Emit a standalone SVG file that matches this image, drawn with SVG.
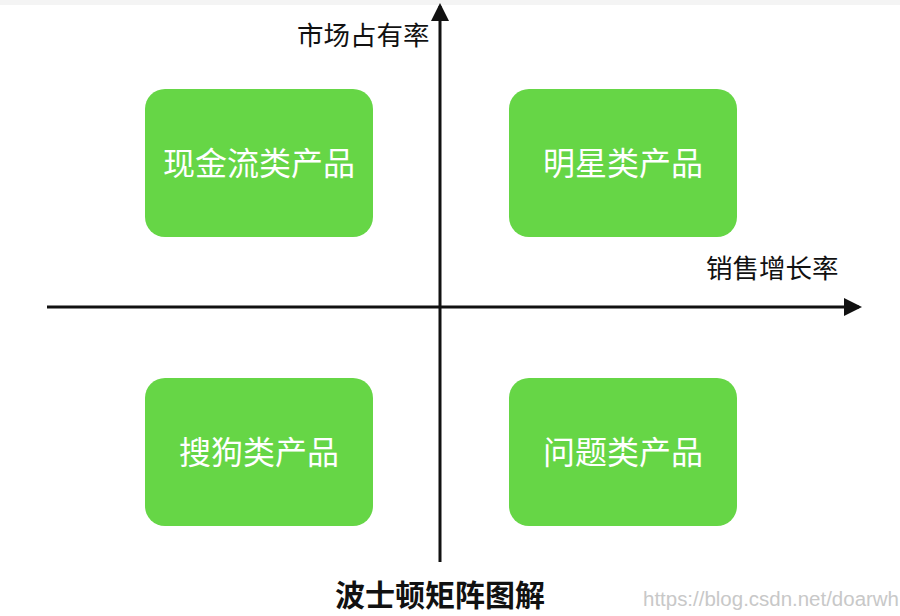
<svg xmlns="http://www.w3.org/2000/svg" width="900" height="616" viewBox="0 0 900 616">
<style>
.box{fill:#66d646}
.bt{font-family:"Noto Sans CJK SC","Noto Sans",sans-serif;font-size:32px;fill:#ffffff;text-anchor:middle}
.lab{font-family:"Noto Sans CJK SC","Noto Sans",sans-serif;font-size:26.5px;fill:#111111}
.ax{stroke:#111111;stroke-width:3;fill:none}
</style>
<defs>
<marker id="ah" markerWidth="6" markerHeight="6" refX="5" refY="3" orient="auto" markerUnits="strokeWidth">
<path d="M0,0 L6,3 L0,6 Z" fill="#111111"/>
</marker>
</defs>
<rect width="900" height="616" fill="#ffffff"/>
<rect width="900" height="5" fill="#f4f4f4"/>
<g id="connectors">
<line class="ax" x1="440" y1="562" x2="440" y2="6" marker-end="url(#ah)"/>
<line class="ax" x1="47" y1="307" x2="859" y2="307" marker-end="url(#ah)"/>
</g>
<g id="cash"><rect class="box" x="145" y="89" width="228" height="148" rx="20"/><text class="bt" x="259" y="175">现金流类产品</text></g>
<g id="star"><rect class="box" x="509" y="89" width="228" height="148" rx="20"/><text class="bt" x="623" y="175">明星类产品</text></g>
<g id="dog"><rect class="box" x="145" y="378" width="228" height="148" rx="20"/><text class="bt" x="259" y="464">搜狗类产品</text></g>
<g id="question"><rect class="box" x="509" y="378" width="228" height="148" rx="20"/><text class="bt" x="623" y="464">问题类产品</text></g>
<text class="lab" x="297" y="45">市场占有率</text>
<text class="lab" x="706" y="278">销售增长率</text>
<text x="440" y="606" font-family="'Noto Sans CJK SC','Noto Sans',sans-serif" font-size="30" font-weight="bold" fill="#111111" text-anchor="middle">波士顿矩阵图解</text>
<text x="643" y="606" font-family="'Liberation Sans',Arial,sans-serif" font-size="20" fill="#c8c8c8" textLength="256" lengthAdjust="spacingAndGlyphs">https://blog.csdn.net/doarwh</text>
</svg>
